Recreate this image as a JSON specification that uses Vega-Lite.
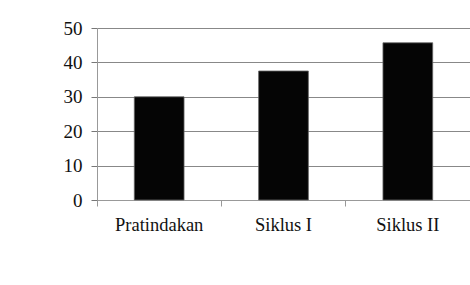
{
  "$schema": "https://vega.github.io/schema/vega-lite/v6.json",
  "width": 373,
  "height": 172,
  "autosize": {"type": "none"},
  "padding": {"left": 97, "top": 28, "right": 0, "bottom": 85},
  "background": "white",
  "data": {"values": [
    {"kategori": "Pratindakan", "nilai": 30},
    {"kategori": "Siklus I", "nilai": 37.5},
    {"kategori": "Siklus II", "nilai": 45.7}
  ]},
  "mark": {"type": "bar", "color": "#050505", "stroke": "#666", "strokeWidth": 0.8, "width": {"band": 0.4}},
  "encoding": {
    "x": {
      "field": "kategori", "type": "nominal", "sort": null, "title": null,
      "scale": {"paddingInner": 0, "paddingOuter": 0},
      "axis": {"labelAngle": 0, "bandPosition": 0, "tickSize": 6, "tickColor": "#999", "domainColor": "#999", "labelPadding": 9, "labelFont": "Liberation Serif", "labelFontSize": 18.5, "labelColor": "#111", "grid": false}
    },
    "y": {
      "field": "nilai", "type": "quantitative", "title": null,
      "scale": {"domain": [0, 50]},
      "axis": {"values": [0, 10, 20, 30, 40, 50], "tickSize": 6, "tickColor": "#777", "domainColor": "#999", "gridColor": "#888", "grid": true, "labelPadding": 9, "labelFont": "Liberation Serif", "labelFontSize": 19, "labelColor": "#111"}
    }
  },
  "config": {"view": {"stroke": null}}
}
